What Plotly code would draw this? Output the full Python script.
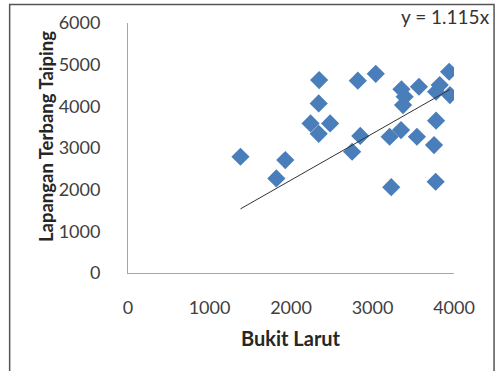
import plotly.graph_objects as go

# Paired daily readings: Bukit Larut (x) vs Lapangan Terbang Taiping (y)
bukit_larut = [1380, 1820, 1930, 2240, 2340, 2480, 2340, 2345, 2750, 2820,
               2850, 3040, 3210, 3230, 3350, 3355, 3395, 3375, 3570, 3545,
               3755, 3775, 3780, 3780, 3825, 3940, 3950]
lapangan_taiping = [2790, 2270, 2710, 3590, 3340, 3590, 4070, 4630, 2910, 4615,
                    3290, 4780, 3270, 2060, 3430, 4410, 4230, 4030, 4470, 3270,
                    3070, 2190, 3655, 4350, 4510, 4830, 4270]

slope = 1.115
x_ticks = [0, 1000, 2000, 3000, 4000]
y_ticks = [0, 1000, 2000, 3000, 4000, 5000, 6000]

font_family = "Lato, Carlito, 'Open Sans', sans-serif"

# Trend line through the origin spanning the data range
x_min, x_max = min(bukit_larut), max(bukit_larut)
trend_x = [x_min, x_max]
trend_y = [slope * v for v in trend_x]

fig = go.Figure()
fig.add_trace(go.Scatter(
    x=bukit_larut, y=lapangan_taiping, mode="markers",
    marker=dict(symbol="diamond", size=14, color="#4a7ebb", line=dict(width=0)),
    showlegend=False,
))
fig.add_trace(go.Scatter(
    x=trend_x, y=trend_y, mode="lines",
    line=dict(color="#333333", width=1),
    showlegend=False,
))

fig.update_layout(
    width=497, height=371,
    margin=dict(l=128, r=43, t=23, b=98),
    paper_bgcolor="white", plot_bgcolor="white",
    font=dict(family=font_family, size=18, color="#404040"),
    xaxis=dict(
        range=[0, 4000], tickvals=x_ticks, ticktext=[str(v) for v in x_ticks],
        showgrid=False, zeroline=False, showline=True, linecolor="#a6a6a6",
        linewidth=1, ticks="", ticklabelstandoff=18,
    ),
    yaxis=dict(
        range=[0, 6000], tickvals=y_ticks, ticktext=[str(v) for v in y_ticks],
        showgrid=False, zeroline=False, showline=True, linecolor="#a6a6a6",
        linewidth=1, ticks="", ticklabelstandoff=23,
    ),
    annotations=[
        dict(text="y = 1.115x", xref="paper", yref="paper",
             x=(492 - 128) / 326.4, y=(273 - 17) / 250,
             xanchor="right", yanchor="middle", showarrow=False,
             font=dict(family=font_family, size=19, color="#333333")),
        dict(text="<b>Bukit Larut</b>", xref="paper", yref="paper",
             x=(291 - 128) / 326.4, y=(273 - 338) / 250,
             xanchor="center", yanchor="middle", showarrow=False,
             font=dict(family=font_family, size=20, color="#262626")),
        dict(text="<b>Lapangan Terbang Taiping</b>", xref="paper", yref="paper",
             x=(46 - 128) / 326.4, y=(273 - 137) / 250, textangle=-90,
             xanchor="center", yanchor="middle", showarrow=False,
             font=dict(family=font_family, size=18.5, color="#262626")),
    ],
    shapes=[
        dict(type="rect", xref="paper", yref="paper",
             x0=(9.5 - 128) / 326.4, x1=(494.5 - 128) / 326.4,
             y0=(273 - 390) / 250, y1=(273 - 4.5) / 250,
             line=dict(color="#555555", width=1.5), fillcolor="rgba(0,0,0,0)",
             layer="below"),
    ],
)

fig.write_html("out.html")
